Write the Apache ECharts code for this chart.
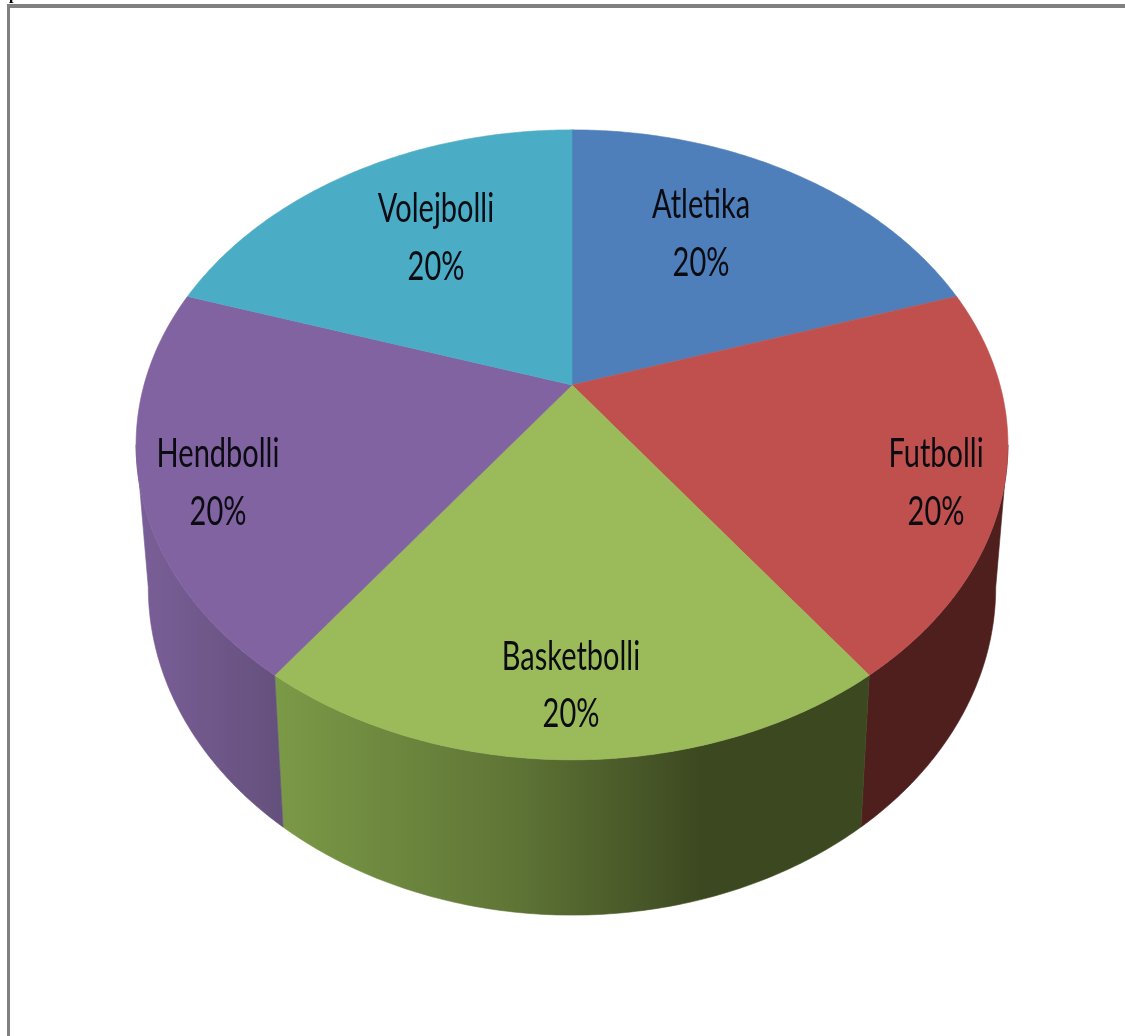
<!DOCTYPE html>
<html>
<head>
<meta charset="utf-8">
<style>
  html, body { margin: 0; padding: 0; background: #fff; }
  #chart { width: 1125px; height: 1036px; }
</style>
<script src="https://cdn.jsdelivr.net/npm/echarts@6/dist/echarts.min.js"></script>
</head>
<body>
<div id="chart"></div>
<script>
// Sport shares, clockwise from twelve o'clock
const categories = ['Atletika', 'Futbolli', 'Basketbolli', 'Hendbolli', 'Volejbolli'];
const values = [20, 20, 20, 20, 20];

const topColors = ['#4f7fba', '#c0504d', '#9bba59', '#8063a0', '#4bacc6'];
const sideStops = [
  [[0, '#36557c'], [1, '#36557c']],
  [[0, '#4f1f1e'], [1, '#4f1f1e']],
  [[0, '#7b9a47'], [0.4, '#5f7536'], [0.72, '#3c4820'], [1, '#3c4820']],
  [[0, '#7a5f98'], [1, '#64507c']],
  [[0, '#2f7487'], [1, '#2f7487']]
];

// Label centres, [x, name line y, percent line y]
const labelPlaces = [
  [701, 205, 263],
  [936, 454, 512],
  [571, 657, 714],
  [218, 454, 512],
  [436, 209, 267]
];

// Perspective rim of the upper and lower disc faces
const upperFace = { cx: 572, cy: 385, a: 428, b: 303.6, k: 0.19 };
const lowerFace = { cx: 572, cy: 525, a: 416, b: 316, k: 0.19 };

const total = values.reduce((s, v) => s + v, 0);

// Rim angles where the wall meets the disc's left and right silhouette
const wallStart = Math.acos(-upperFace.k);
const wallEnd = Math.PI * 2 - wallStart;

function project(face, angle, radius) {
  const u = Math.sin(angle) * radius;
  const v = Math.cos(angle) * radius;
  const w = 1 + face.k * v;
  return [face.cx + face.a * u / w, face.cy - face.b * v / w];
}

function sliceAngles(index) {
  let before = 0;
  for (let i = 0; i < index; i++) before += values[i];
  return [before / total * Math.PI * 2, (before + values[index]) / total * Math.PI * 2];
}

function arc(face, from, to) {
  const steps = 120;
  const points = [];
  for (let i = 0; i <= steps; i++) {
    points.push(project(face, from + (to - from) * i / steps, 1));
  }
  return points;
}

// Only the front-facing stretch of each slice's wall can be seen
function renderSide(params) {
  const i = params.dataIndex;
  const [sliceFrom, sliceTo] = sliceAngles(i);
  const from = Math.max(sliceFrom, wallStart);
  const to = Math.min(sliceTo, wallEnd);
  if (to <= from) return null;
  const points = arc(upperFace, from, to).concat(arc(lowerFace, from, to).reverse());
  const colorStops = sideStops[i].map(s => ({ offset: s[0], color: s[1] }));
  const fill = { type: 'linear', x: 0, y: 0, x2: 1, y2: 0, colorStops };
  return {
    type: 'polygon',
    shape: { points },
    style: { fill, stroke: fill, lineWidth: 0.6 }
  };
}

function renderTop(params) {
  const i = params.dataIndex;
  const [from, to] = sliceAngles(i);
  const points = [[upperFace.cx, upperFace.cy]].concat(arc(upperFace, from, to));
  return {
    type: 'polygon',
    shape: { points },
    style: { fill: topColors[i], stroke: topColors[i], lineWidth: 0.6 }
  };
}

function labelLine(text, x, y) {
  return {
    type: 'text',
    x, y,
    scaleX: 1,
    scaleY: 1.42,
    style: {
      text, x: 0, y: 0,
      align: 'center', verticalAlign: 'middle',
      font: '400 29px Lato, "Noto Sans", sans-serif',
      fill: '#0b0b12'
    }
  };
}

function renderLabel(params, api) {
  const i = params.dataIndex;
  const place = labelPlaces[i];
  const share = Math.round(api.value(0) / total * 100) + '%';
  return {
    type: 'group',
    children: [
      labelLine(categories[i], place[0], place[1]),
      labelLine(share, place[0], place[2])
    ]
  };
}

const chart = echarts.init(document.getElementById('chart'), null, { renderer: 'canvas' });
chart.setOption({
  animation: false,
  backgroundColor: '#ffffff',
  tooltip: { show: false },
  graphic: [
    { type: 'text', x: 9, y: -13, z: 1, style: { text: 'p', font: 'bold 16px "Liberation Serif", serif', fill: '#000' } },
    { type: 'rect', shape: { x: 7, y: 4, width: 1118, height: 4 }, z: 2, style: { fill: '#808080' } },
    { type: 'rect', shape: { x: 7, y: 4, width: 3, height: 1032 }, z: 2, style: { fill: '#808080' } }
  ],
  series: [
    { type: 'custom', coordinateSystem: 'none', data: values, z: 3, silent: true, renderItem: renderSide },
    { type: 'custom', coordinateSystem: 'none', data: values, z: 4, silent: true, renderItem: renderTop },
    { type: 'custom', coordinateSystem: 'none', data: values, z: 5, silent: true, renderItem: renderLabel }
  ]
});
</script>
</body>
</html>
